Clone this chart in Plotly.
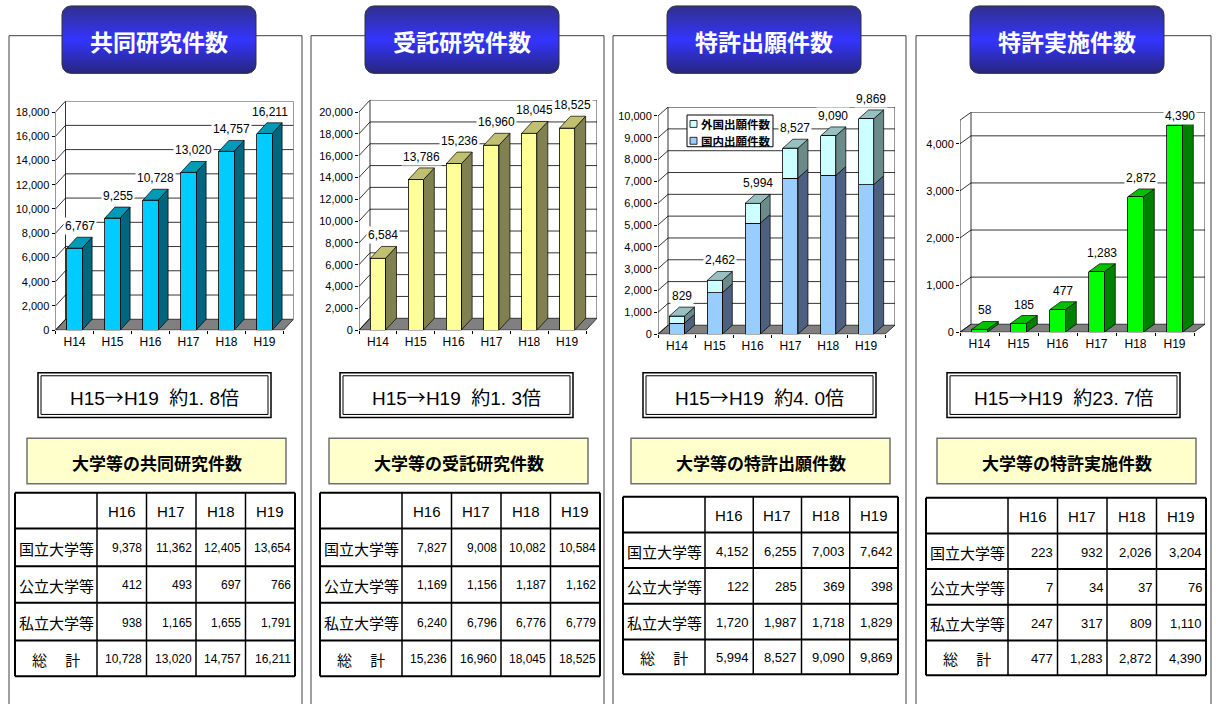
import math
import plotly.graph_objects as go

W, H = 1216, 704

# ---- data ----------------------------------------------------------------
years = ["H14", "H15", "H16", "H17", "H18", "H19"]
table_years = ["H16", "H17", "H18", "H19"]
row_labels = ["国立大学等", "公立大学等", "私立大学等", "総　 計"]

joint_counts = [6767, 9255, 10728, 13020, 14757, 16211]
contract_counts = [6584, 13786, 15236, 16960, 18045, 18525]
patent_domestic = [500, 1900, 5080, 7155, 7273, 6850]
patent_foreign = [329, 562, 914, 1372, 1817, 3019]
license_counts = [58, 185, 477, 1283, 2872, 4390]

joint_national = [9378, 11362, 12405, 13654]
joint_public = [412, 493, 697, 766]
joint_private = [938, 1165, 1655, 1791]
joint_sum = [10728, 13020, 14757, 16211]

contract_national = [7827, 9008, 10082, 10584]
contract_public = [1169, 1156, 1187, 1162]
contract_private = [6240, 6796, 6776, 6779]
contract_sum = [15236, 16960, 18045, 18525]

patent_national = [4152, 6255, 7003, 7642]
patent_public = [122, 285, 369, 398]
patent_private = [1720, 1987, 1718, 1829]
patent_sum = [5994, 8527, 9090, 9869]

license_national = [223, 932, 2026, 3204]
license_public = [7, 34, 37, 76]
license_private = [247, 317, 809, 1110]
license_sum = [477, 1283, 2872, 4390]

titles = ["共同研究件数", "受託研究件数", "特許出願件数", "特許実施件数"]
subtitles = ["大学等の共同研究件数", "大学等の受託研究件数",
             "大学等の特許出願件数", "大学等の特許実施件数"]
legend_labels = ["外国出願件数", "国内出願件数"]

CJK = "Noto Sans CJK JP"
LATIN = "Liberation Sans, Arial, sans-serif"


def fx(p):
    return p / W


def fy(p):
    return 1 - p / H


# ---- panels ----------------------------------------------------------------
panels = [
    dict(left=9, width=293, title_x=62, ratio_x=38, band_x=27, ceiling=80,
         stacks=[(joint_counts, "#00CCFF", "#006680")], top="#0099B8",
         xL=55.5, xR=283.5, y0=333, ppu=220 / 18000, dx=10, dy=11,
         wall=18000, tmax=18000, step=2000,
         table=dict(l=15, r=295, rows_y=[497, 533, 571, 608, 646, 682], fs=12,
                    rows=[joint_national, joint_public, joint_private, joint_sum])),
    dict(left=311, width=293, title_x=365, ratio_x=340, band_x=329, ceiling=80,
         stacks=[(contract_counts, "#FFFF99", "#808050")], top="#C0C070",
         xL=359, xR=586, y0=333, ppu=220 / 20000, dx=11, dy=12,
         wall=20000, tmax=20000, step=2000,
         table=dict(l=320, r=600, rows_y=[497, 533, 571, 608, 646, 682], fs=12,
                    rows=[contract_national, contract_public, contract_private, contract_sum])),
    dict(left=613, width=293, title_x=667, ratio_x=643, band_x=631, ceiling=80,
         stacks=[(patent_domestic, "#99CCFF", "#4D6080"),
                 (patent_foreign, "#CCFFFF", "#6B8A8A")], top="#99C0C0",
         xL=658, xR=885, y0=337, ppu=220 / 10000, dx=10, dy=9,
         wall=10000, tmax=10000, step=1000,
         table=dict(l=623, r=898, rows_y=[501, 537, 573, 609, 645, 680], fs=13,
                    rows=[patent_national, patent_public, patent_private, patent_sum])),
    dict(left=916, width=295, title_x=970, ratio_x=947, band_x=937, ceiling=108,
         stacks=[(license_counts, "#00FF00", "#008000")], top="#00C000",
         xL=960, xR=1194, y0=335, ppu=190 / 4000, dx=11, dy=8,
         wall=4500, tmax=4000, step=1000,
         table=dict(l=926, r=1206, rows_y=[502, 538, 574, 610, 646, 681], fs=13,
                    rows=[license_national, license_public, license_private, license_sum])),
]

fig = go.Figure()
shapes = []
annotations = []
layout_axes = {}
BW = 0.4  # bar width in category units


def line(xref, yref, x0, y0, x1, y1, width=0.8, color="black", layer="below"):
    return dict(type="line", xref=xref, yref=yref, x0=x0, y0=y0, x1=x1, y1=y1,
                line=dict(color=color, width=width), layer=layer)


def pline(x0, y0, x1, y1, width=1.0, color="black"):
    return line("paper", "paper", fx(x0), fy(y0), fx(x1), fy(y1), width, color, "above")


def poly(xref, yref, pts, fill, width=0.7, layer="below"):
    d = "M " + " L ".join(f"{x},{y}" for x, y in pts) + " Z"
    return dict(type="path", xref=xref, yref=yref, path=d, fillcolor=fill,
                line=dict(color="black", width=width), layer=layer)


def text(x, y, s, family, size, color="black", xanchor="center", bold=False):
    return dict(xref="paper", yref="paper", x=fx(x), y=fy(y), xanchor=xanchor,
                yanchor="middle", text=f"<b>{s}</b>" if bold else s, showarrow=False,
                font=dict(family=family, size=size, color=color))


def rounded_rect(x0, y0, x1, y1, r, n=8):
    pts = []
    corners = [(x1 - r, y0 + r, -90, 0), (x1 - r, y1 - r, 0, 90),
               (x0 + r, y1 - r, 90, 180), (x0 + r, y0 + r, 180, 270)]
    for cx, cy, a0, a1 in corners:
        for s in range(n + 1):
            a = math.radians(a0 + (a1 - a0) * s / n)
            pts.append((cx + r * math.cos(a), cy + r * math.sin(a)))
    pts.append(pts[0])
    return [q[0] for q in pts], [q[1] for q in pts]


for k, p in enumerate(panels, start=1):
    xa = "x" if k == 1 else f"x{k}"
    ya = "y" if k == 1 else f"y{k}"
    xname = "xaxis" if k == 1 else f"xaxis{k}"
    yname = "yaxis" if k == 1 else f"yaxis{k}"

    ppc = (p["xR"] - p["xL"]) / len(years)
    dxv = p["dx"] / ppc
    dyv = p["dy"] / p["ppu"]
    ytop = p["wall"] + dyv
    left_edge, right_edge = -0.5, len(years) - 0.5

    layout_axes[xname] = dict(
        domain=[fx(p["xL"]), fx(p["xR"] + p["dx"])], range=[left_edge, right_edge + dxv],
        anchor=ya, tickvals=list(range(len(years))), ticktext=years,
        showgrid=False, zeroline=False, showline=False, ticks="", ticklabelstandoff=3,
        tickfont=dict(family=LATIN, size=12, color="black"),
        minor=dict(tickvals=[i - 0.5 for i in range(len(years) + 1)], ticks="outside",
                   ticklen=3, tickcolor="black", showgrid=False),
        fixedrange=True)
    tickvals = list(range(0, p["tmax"] + 1, p["step"]))
    layout_axes[yname] = dict(
        domain=[fy(p["y0"]), fy(p["y0"] - ytop * p["ppu"])], range=[0, ytop],
        anchor=xa, tickvals=tickvals, tickformat=",d",
        showgrid=False, zeroline=False, showline=False,
        ticks="outside", ticklen=3, tickcolor="black",
        tickfont=dict(family=LATIN, size=11, color="black"), fixedrange=True)

    # floor
    shapes.append(poly(xa, ya, [(left_edge, 0), (right_edge, 0),
                                (right_edge + dxv, dyv), (left_edge + dxv, dyv)], "#808080"))
    # back wall grid and connectors
    extra = [p["wall"]] if p["wall"] != p["tmax"] else []
    for v in tickvals[1:] + extra:
        shapes.append(line(xa, ya, left_edge + dxv, v + dyv, right_edge + dxv, v + dyv))
    for v in tickvals + extra:
        shapes.append(line(xa, ya, left_edge, v, left_edge + dxv, v + dyv))
    shapes.append(line(xa, ya, left_edge, 0, left_edge, p["wall"]))
    shapes.append(line(xa, ya, left_edge + dxv, dyv, left_edge + dxv, p["wall"] + dyv))
    shapes.append(line(xa, ya, right_edge + dxv, dyv, right_edge + dxv, p["wall"] + dyv))

    # bars: front faces as traces, side/top faces derived from the same values
    base = [0] * len(years)
    for si, (vals, front, side) in enumerate(p["stacks"]):
        fig.add_trace(go.Bar(x=list(range(len(years))), y=vals, width=BW,
                             marker=dict(color=front, line=dict(color="black", width=0.8)),
                             xaxis=xa, yaxis=ya, showlegend=False, hoverinfo="skip"))
        for i, v in enumerate(vals):
            b, t = base[i], base[i] + v
            xr = i + BW / 2
            shapes.append(poly(xa, ya, [(xr, b), (xr + dxv, b + dyv),
                                        (xr + dxv, t + dyv), (xr, t)], side))
        base = [b + v for b, v in zip(base, vals)]
    for i, t in enumerate(base):
        xl, xr = i - BW / 2, i + BW / 2
        shapes.append(poly(xa, ya, [(xl, t), (xr, t), (xr + dxv, t + dyv), (xl + dxv, t + dyv)],
                           p["top"]))
        # value label, kept below the chart ceiling
        label_top_px = p["y0"] - (t + dyv) * p["ppu"] - 2 - 17
        if label_top_px >= p["ceiling"]:
            y_lab, anchor, shift = t + dyv, "bottom", 2
        else:
            # pin to the top of the plot area, then lift to the ceiling in pixels
            y_lab, anchor = ytop * 0.999, "top"
            shift = (p["y0"] - ytop * p["ppu"]) - p["ceiling"]
        annotations.append(dict(xref=xa, yref=ya, x=i + dxv / 2, y=y_lab,
                                yanchor=anchor, yshift=shift, text=f"{t:,}",
                                showarrow=False, bgcolor="white", borderpad=1,
                                font=dict(family=LATIN, size=12, color="black")))

    # panel frame
    L = p["left"]
    shapes.append(dict(type="rect", xref="paper", yref="paper", x0=fx(L), x1=fx(L + p["width"]),
                       y0=fy(36), y1=fy(712), line=dict(color="#404040", width=1),
                       fillcolor="rgba(0,0,0,0)", layer="below"))

    # title box with vertical gradient
    tx = p["title_x"]
    bx, by = rounded_rect(tx, 6, tx + 194, 74, 9)
    fig.add_trace(go.Scatter(x=bx, y=by, mode="lines", fill="toself",
                             line=dict(color="#303030", width=1),
                             fillgradient=dict(type="vertical", start=6, stop=74,
                                               colorscale=[[0, "#30308C"], [0.5, "#3434FF"],
                                                           [1, "#26267A"]]),
                             xaxis="x5", yaxis="y5", showlegend=False, hoverinfo="skip"))
    annotations.append(text(tx + 97, 41, titles[k - 1], CJK, 23, "white", bold=True))

    # growth ratio box (double border)
    rx = p["ratio_x"]
    shapes.append(dict(type="rect", xref="paper", yref="paper", x0=fx(rx), x1=fx(rx + 233),
                       y0=fy(376), y1=fy(421), line=dict(color="black", width=1.5),
                       fillcolor="white", layer="above"))
    shapes.append(dict(type="rect", xref="paper", yref="paper", x0=fx(rx + 3), x1=fx(rx + 230),
                       y0=fy(379), y1=fy(418), line=dict(color="black", width=1),
                       fillcolor="rgba(0,0,0,0)", layer="above"))
    ratio = f"{base[5] / base[1]:.1f}".replace(".", ". ")
    arrow = f"<span style='font-family:{CJK}'>→</span>"
    annotations.append(text(rx + 116.5, 399.5,
                            f"H15{arrow}H19\u00a0\u00a0約{ratio}倍", LATIN + ", " + CJK, 19))

    # subtitle band
    bxl = p["band_x"]
    shapes.append(dict(type="rect", xref="paper", yref="paper", x0=fx(bxl), x1=fx(bxl + 259),
                       y0=fy(442), y1=fy(488), line=dict(color="#707070", width=1.5),
                       fillcolor="#FFFFCC", layer="above"))
    annotations.append(text(bxl + 129.5, 466, subtitles[k - 1], CJK, 17, bold=True))

    # breakdown table
    tb = p["table"]
    ry = tb["rows_y"]
    label_w = 82
    col_w = (tb["r"] - tb["l"] - label_w) / len(table_years)
    col_x = [tb["l"], tb["l"] + label_w] + [tb["l"] + label_w + col_w * (j + 1)
                                            for j in range(len(table_years))]
    shapes.append(dict(type="rect", xref="paper", yref="paper", x0=fx(tb["l"]), x1=fx(tb["r"]),
                       y0=fy(ry[-1]), y1=fy(ry[0]), line=dict(width=0),
                       fillcolor="white", layer="above"))
    for yv in ry:
        shapes.append(pline(tb["l"], yv, tb["r"], yv, 2))
    for j, xv in enumerate(col_x):
        shapes.append(pline(xv, ry[0], xv, ry[-1], 2 if j in (0, len(col_x) - 1) else 1.5))
    for j, yr in enumerate(table_years):
        annotations.append(text((col_x[j + 1] + col_x[j + 2]) / 2, (ry[0] + ry[1]) / 2 + 1,
                                yr, LATIN, 15))
    for ri, (lab, vals) in enumerate(zip(row_labels, tb["rows"])):
        cy = (ry[ri + 1] + ry[ri + 2]) / 2 + 1
        annotations.append(text((col_x[0] + col_x[1]) / 2, cy, lab, CJK, 15))
        for j, v in enumerate(vals):
            annotations.append(text(col_x[j + 2] - 2.5, cy, f"{v:,}", LATIN, tb["fs"],
                                    xanchor="right"))

# legend of the patent chart (foreign on top, domestic below)
legend_colors = [panels[2]["stacks"][1][1], panels[2]["stacks"][0][1]]
shapes.append(dict(type="rect", xref="paper", yref="paper", x0=fx(687), x1=fx(773),
                   y0=fy(148), y1=fy(116), line=dict(color="black", width=1),
                   fillcolor="white", layer="above"))
for j, (lab, col) in enumerate(zip(legend_labels, legend_colors)):
    cy = 125 + 17 * j
    shapes.append(dict(type="rect", xref="paper", yref="paper", x0=fx(690), x1=fx(697),
                       y0=fy(cy + 3.5), y1=fy(cy - 3.5), line=dict(color="black", width=0.8),
                       fillcolor=col, layer="above"))
    annotations.append(text(699, cy, lab, CJK, 11.5, xanchor="left", bold=True))

layout_axes["xaxis5"] = dict(domain=[0, 1], range=[0, W], visible=False, anchor="y5",
                             fixedrange=True)
layout_axes["yaxis5"] = dict(domain=[0, 1], range=[H, 0], visible=False, anchor="x5",
                             fixedrange=True)

fig.update_layout(
    width=W, height=H, margin=dict(l=0, r=0, t=0, b=0),
    paper_bgcolor="white", plot_bgcolor="rgba(0,0,0,0)",
    barmode="stack", showlegend=False,
    shapes=shapes, annotations=annotations, **layout_axes)

fig.write_html("out.html", config=dict(displayModeBar=False))
